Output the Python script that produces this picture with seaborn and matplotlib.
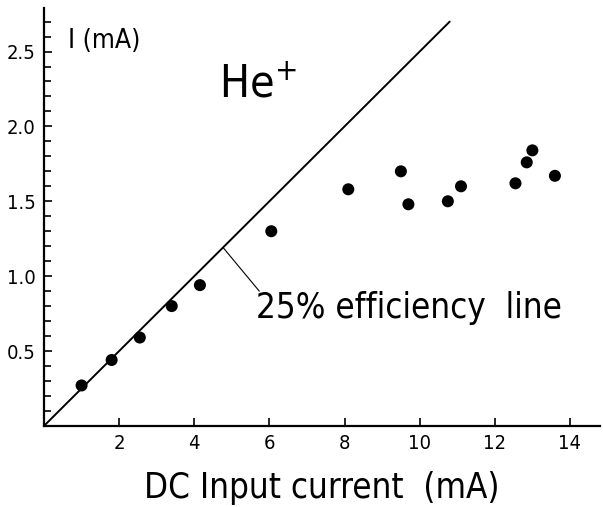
import numpy as np
import pandas as pd
import matplotlib
matplotlib.use("Agg")
import matplotlib.pyplot as plt
from matplotlib.ticker import MultipleLocator
import seaborn as sns

# measured points (He+ beam current vs DC input current)
dc_input = [1.0, 1.8, 2.55, 3.4, 4.15, 6.05, 8.1, 9.5, 9.7, 10.75, 11.1, 12.55, 12.85, 13.0, 13.6]
beam_current = [0.27, 0.44, 0.59, 0.80, 0.94, 1.30, 1.58, 1.70, 1.48, 1.50, 1.60, 1.62, 1.76, 1.84, 1.67]

# 25% efficiency reference line
eff_x = [0.0, 10.8]
eff_y = [0.0, 2.70]

x_ticks = [2, 4, 6, 8, 10, 12, 14]
y_ticks = [0.5, 1.0, 1.5, 2.0, 2.5]

pts = pd.DataFrame({"dc": dc_input, "i": beam_current})
line = pd.DataFrame({"dc": eff_x, "i": eff_y})

sns.set_style("ticks")
plt.rcParams["font.family"] = ["DejaVu Sans"]
plt.rcParams["font.stretch"] = "condensed"
plt.rcParams["text.color"] = "black"
plt.rcParams["axes.labelcolor"] = "black"
plt.rcParams["xtick.color"] = "black"
plt.rcParams["ytick.color"] = "black"

fig = plt.figure(figsize=(6.03, 5.07), dpi=100)
ax = fig.add_axes([0.073, 0.16, 0.922, 0.824])

sns.lineplot(data=line, x="dc", y="i", color="black", linewidth=1.4, ax=ax)
sns.scatterplot(data=pts, x="dc", y="i", color="black", s=75, edgecolor="none", ax=ax)

ax.set_xlim(0, 14.8)
ax.set_ylim(0, 2.79)
ax.set_xticks(x_ticks)
ax.set_yticks(y_ticks)
ax.set_yticklabels([f"{v:.1f}" for v in y_ticks])
ax.yaxis.set_minor_locator(MultipleLocator(0.1))
ax.tick_params(axis="both", which="both", direction="in", width=1.2, color="black")
ax.tick_params(axis="both", which="major", length=6, labelsize=14.5, pad=6)
ax.tick_params(axis="y", which="minor", length=5)
ax.tick_params(axis="x", which="minor", length=0)

for side in ["top", "right"]:
    ax.spines[side].set_visible(False)
for side in ["left", "bottom"]:
    ax.spines[side].set_linewidth(1.6)
    ax.spines[side].set_color("black")

ax.set_xlabel("DC Input current  (mA)", fontsize=25, labelpad=13)
ax.set_ylabel("")

ax.text(0.64, 2.57, "I (mA)", fontsize=19, va="center", ha="left")
ax.text(4.65, 2.19, "He$^{+}$", fontsize=32, va="baseline", ha="left")
ax.text(5.63, 0.79, "25% efficiency  line", fontsize=25, va="center", ha="left")
ax.plot([4.77, 5.73], [1.19, 0.90], color="black", linewidth=0.8)

fig.savefig("out.png", dpi=100)
